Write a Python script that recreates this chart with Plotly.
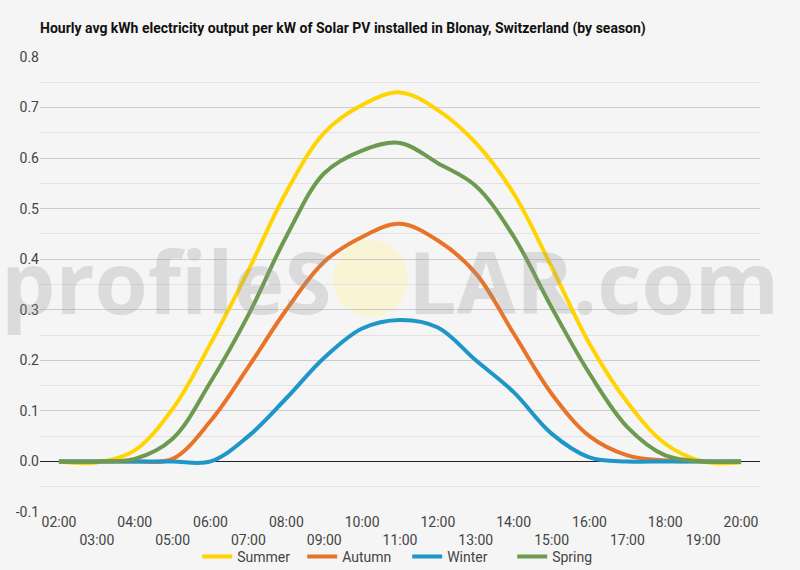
import plotly.graph_objects as go

hours = ["02:00", "03:00", "04:00", "05:00", "06:00", "07:00", "08:00", "09:00", "10:00",
         "11:00", "12:00", "13:00", "14:00", "15:00", "16:00", "17:00", "18:00", "19:00", "20:00"]
summer = [0.0, -0.002, 0.022, 0.104, 0.233, 0.378, 0.533, 0.65, 0.705, 0.73, 0.695, 0.63,
          0.53, 0.385, 0.233, 0.117, 0.035, 0.0, -0.002]
autumn = [0.0, 0.0, 0.0, 0.005, 0.08, 0.187, 0.30, 0.395, 0.444, 0.47, 0.437, 0.372,
          0.253, 0.134, 0.05, 0.012, 0.002, 0.0, 0.0]
winter = [0.0, 0.0, 0.0, 0.0, 0.0, 0.05, 0.125, 0.205, 0.263, 0.28, 0.265, 0.2,
          0.137, 0.055, 0.008, 0.0, 0.0, 0.0, 0.0]
spring = [0.0, 0.0, 0.005, 0.045, 0.157, 0.29, 0.445, 0.57, 0.615, 0.63, 0.59, 0.545,
          0.445, 0.305, 0.174, 0.068, 0.012, 0.0, 0.0]
y_ticks = [-0.1, 0.0, 0.1, 0.2, 0.3, 0.4, 0.5, 0.6, 0.7, 0.8]
y_tick_labels = ["-0.1", "0.0", "0.1", "0.2", "0.3", "0.4", "0.5", "0.6", "0.7", "0.8"]

series = [("Summer", summer, "#FFD400"), ("Autumn", autumn, "#E8742A"),
          ("Winter", winter, "#1F96C8"), ("Spring", spring, "#6C9A4E")]

tick_text = [h if i % 2 == 0 else "<br>" + h for i, h in enumerate(hours)]

fig = go.Figure()
for name, vals, color in series:
    fig.add_trace(go.Scatter(x=hours, y=vals, name=name, mode="lines",
                             line=dict(color=color, width=4, shape="spline", smoothing=1.0)))

fig.update_layout(
    width=800, height=570,
    paper_bgcolor="#F5F5F5", plot_bgcolor="#F5F5F5",
    margin=dict(l=40, r=40, t=57, b=58, autoexpand=False),
    font=dict(family="Roboto", size=14, color="#444444"),
    title=dict(text="<b>Hourly avg kWh electricity output per kW of Solar PV installed in Blonay, Switzerland (by season)</b>",
               x=40 / 800, xanchor="left", y=1 - 28 / 570, yanchor="middle",
               font=dict(family="Roboto", size=14, color="#111111")),
    showlegend=True,
    legend=dict(orientation="h", x=0.51, xanchor="center", y=(570 - 557) / 570, yanchor="middle",
                yref="container", entrywidth=60, entrywidthmode="pixels",
                font=dict(size=14, color="#444444"), bgcolor="rgba(0,0,0,0)",
                itemwidth=30, tracegroupgap=0),
    xaxis=dict(type="category", range=[-0.5, 18.5], tickmode="array", tickvals=hours,
               ticktext=tick_text, showgrid=False, zeroline=False, showline=False,
               ticks="", automargin=False, tickfont=dict(size=14, color="#444444")),
    yaxis=dict(range=[-0.1, 0.8], tickmode="array", tickvals=y_ticks, ticktext=y_tick_labels,
               showgrid=True, automargin=False,
               gridcolor="#CCCCCC", gridwidth=1, zeroline=True, zerolinecolor="#222222",
               zerolinewidth=1, ticks="", showline=False,
               minor=dict(dtick=0.05, showgrid=True, gridcolor="#E2E2E2", gridwidth=1),
               tickfont=dict(size=14, color="#444444")),
)

# watermark
fig.add_shape(type="circle", xref="paper", yref="paper",
              x0=(333 - 40) / 720, x1=(408 - 40) / 720,
              y0=(512 - 317) / 455, y1=(512 - 240) / 455,
              fillcolor="rgba(255,245,170,0.45)", line=dict(width=0), layer="between")
wm_font = dict(family="Open Sans", size=86, color="rgba(150,150,150,0.28)")
fig.add_annotation(text="<b>profileS</b>", xref="paper", yref="paper",
                   x=(334 - 40) / 720, y=(512 - 280) / 455, xanchor="right", yanchor="middle",
                   showarrow=False, font=wm_font)
fig.add_annotation(text="<b>LAR.com</b>", xref="paper", yref="paper",
                   x=(406 - 40) / 720, y=(512 - 280) / 455, xanchor="left", yanchor="middle",
                   showarrow=False, font=wm_font)

fig.write_html("out.html", config={"displayModeBar": False},
               post_script="document.body.style.margin='0';document.body.style.background='#F5F5F5';")
